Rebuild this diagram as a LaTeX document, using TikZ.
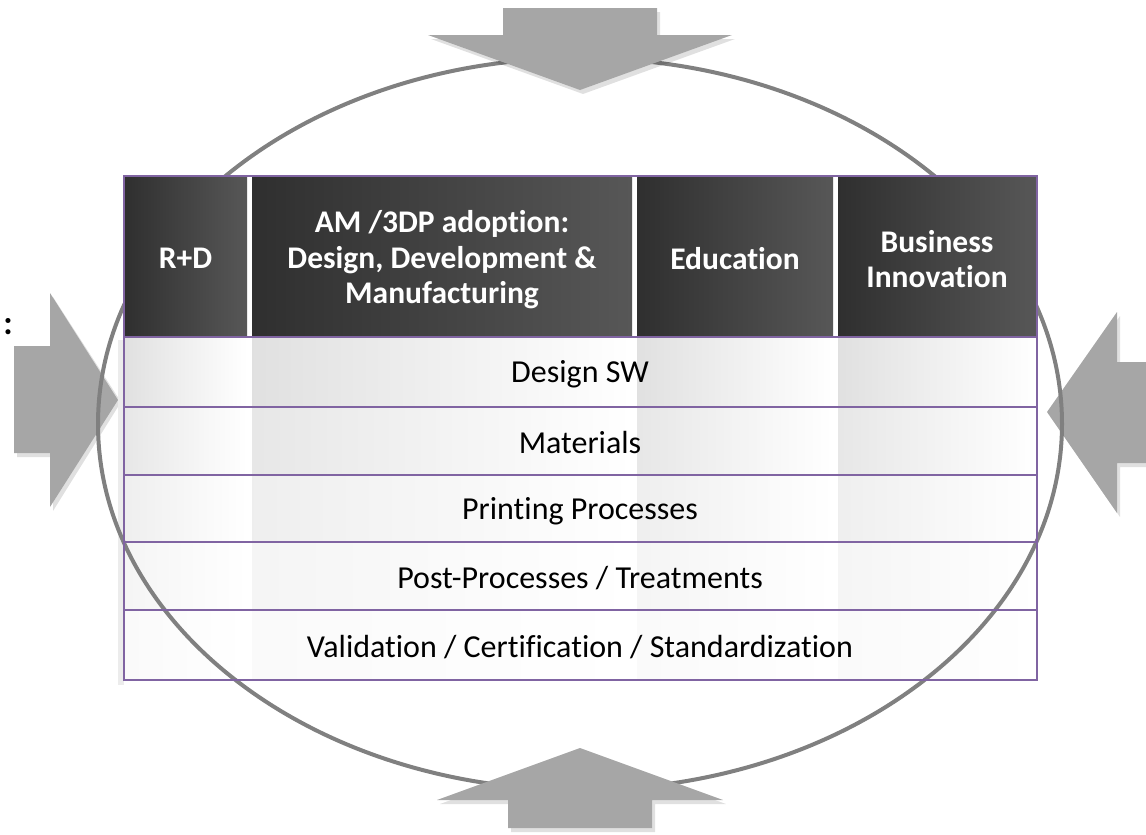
\documentclass[tikz,border=0pt]{standalone}
\usepackage{fontspec}
\setmainfont{Carlito}[Ligatures={NoCommon}]
\definecolor{tblpurple}{HTML}{8064A2}
\definecolor{arrgray}{HTML}{A6A6A6}
\definecolor{ringgray}{HTML}{808080}
\definecolor{hdark}{HTML}{2F2F2F}
\definecolor{hlight}{HTML}{575757}
\begin{document}
\begin{tikzpicture}[x=1pt,y=-1pt,
  bigarrow/.style={fill=arrgray,draw=none},
  arrshadow/.style={fill=black,opacity=0.12,draw=none},
  hdrtext/.style={text=white,font=\fontsize{31.5}{35.5}\selectfont\bfseries,align=center,inner sep=0pt},
  rowtext/.style={text=black,font=\fontsize{32}{36}\selectfont,inner sep=0pt},
  ring/.style={draw=ringgray,line width=4pt},
  gridline/.style={draw=tblpurple,line width=2.2pt}]
\useasboundingbox (0,0) rectangle (1146,835);
% left / right arrows (below ring)
\fill[arrshadow] (17,350) -- (53,350) -- (53,297) -- (121,402) -- (53,511) -- (53,457) -- (17,457) -- cycle;
\fill[bigarrow] (14,346) -- (50,346) -- (50,293) -- (118,400) -- (50,507) -- (50,453) -- (14,453) -- cycle;
\fill[arrshadow] (1150,366) -- (1120,366) -- (1120,316) -- (1050,416) -- (1120,517) -- (1120,467) -- (1150,467) -- cycle;
\fill[bigarrow] (1150,362) -- (1117,362) -- (1117,312) -- (1047,412) -- (1117,513) -- (1117,463) -- (1150,463) -- cycle;
% colon text
\node[font=\fontsize{34}{36}\selectfont\bfseries,inner sep=0pt] (colon) at (8,327) {:};
% body shadow strip
\fill[gray!15] (118,340) rectangle (124,685);
% body cells
\foreach \r/\ya/\yb/\lc in {1/337/407/24,2/407/475/19,3/475/542/13,4/542/610/8,5/610/680/4}{
  \foreach \xa/\xb in {124/247,252/632,637/833,838/1037}{
    \shade[left color=gray!\lc,right color=white] (\xa,\ya) rectangle (\xb,\yb);
  }
  \fill[white] (247,\ya) rectangle (252,\yb);
  \fill[white] (632,\ya) rectangle (637,\yb);
  \fill[white] (833,\ya) rectangle (838,\yb);
}
% ring
\draw[ring] (580,424) ellipse [x radius=482,y radius=366];
% header cells
\fill[white] (124,176) rectangle (1037,337);
\shade[left color=hdark,right color=hlight] (124,176) rectangle (247,337);
\shade[left color=hdark,right color=hlight] (252,176) rectangle (632,337);
\shade[left color=hdark,right color=hlight] (637,176) rectangle (833,337);
\shade[left color=hdark,right color=hlight] (838,176) rectangle (1037,337);
% grid lines
\draw[gridline] (124,176) rectangle (1037,680);
\foreach \y in {337,407,475,542,610}{\draw[gridline] (124,\y) -- (1037,\y);}
% header texts
\node[hdrtext] (rd) at (185.5,258) {R+D};
\node[hdrtext] (am) at (442,260) {AM /3DP adoption:\\Design, Development \&\\Manufacturing};
\node[hdrtext] (edu) at (735,259) {Education};
\node[hdrtext] (bus) at (937,259) {Business\\Innovation};
% row texts
\node[rowtext] (r1) at (580,374) {Design SW};
\node[rowtext] (r2) at (580,443) {Materials};
\node[rowtext] (r3) at (580,511) {Printing Processes};
\node[rowtext] (r4) at (580,578) {Post-Processes / Treatments};
\node[rowtext] (r5) at (580,647) {Validation / Certification / Standardization};
% top / bottom arrows (above ring)
\fill[arrshadow] (506,12) -- (660,12) -- (660,39) -- (735,39) -- (583,94) -- (431,39) -- (506,39) -- cycle;
\fill[bigarrow] (503,8) -- (657,8) -- (657,35) -- (732,35) -- (580,90) -- (428,35) -- (503,35) -- cycle;
\fill[arrshadow] (583,752) -- (726,804) -- (655,804) -- (655,832) -- (511,832) -- (511,804) -- (440,804) -- cycle;
\fill[bigarrow] (580,748) -- (723,800) -- (652,800) -- (652,828) -- (508,828) -- (508,800) -- (437,800) -- cycle;
\end{tikzpicture}
\end{document}
